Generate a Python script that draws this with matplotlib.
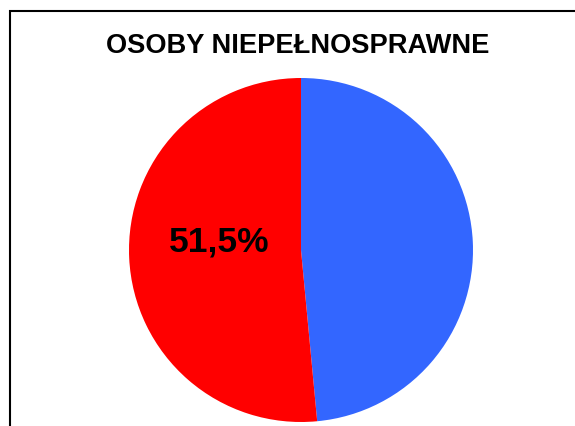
import matplotlib
matplotlib.use("Agg")
import matplotlib.pyplot as plt
from matplotlib.patches import Rectangle

title = "OSOBY NIEPEŁNOSPRAWNE"
categories = ["Mężczyźni", "Kobiety"]
values = [48.5, 51.5]
colors = ["#3366FF", "#FF0000"]
shown = [False, True]

plt.rcParams['font.family'] = ['Liberation Sans', 'DejaVu Sans']

W, H = 575, 426
fig = plt.figure(figsize=(W / 100, H / 100), dpi=100)

# chart border (extends beyond the image on right and bottom)
fig.patches.append(Rectangle((10 / W, -0.2), 1.2, 1 - 11 / H + 0.2,
                             transform=fig.transFigure, fill=False,
                             edgecolor="black", linewidth=1.5))

fig.text(298 / W, 1 - 46 / H, title, ha="center", va="center",
         fontsize=19.6, fontweight="bold")

cx, cy, r = 301, 250, 172
ax = fig.add_axes([(cx - r) / W, (H - cy - r) / H, 2 * r / W, 2 * r / H])
idx = iter(range(len(values)))


def fmt(p):
    i = next(idx)
    return f"{values[i]:.1f}%".replace(".", ",") if shown[i] else ""


wedges, texts, autotexts = ax.pie(values, colors=colors, startangle=90,
                                  counterclock=False, autopct=fmt,
                                  pctdistance=0.49,
                                  wedgeprops=dict(linewidth=0),
                                  textprops=dict(fontsize=25.5, fontweight="bold",
                                                 color="black"))
for t in autotexts:
    x, y = t.get_position()
    t.set_position((x + 2 / r, y + 12 / r))
ax.set_xlim(-1, 1)
ax.set_ylim(-1, 1)
ax.set_aspect("equal")
ax.axis("off")

fig.savefig("out.png", dpi=100)
